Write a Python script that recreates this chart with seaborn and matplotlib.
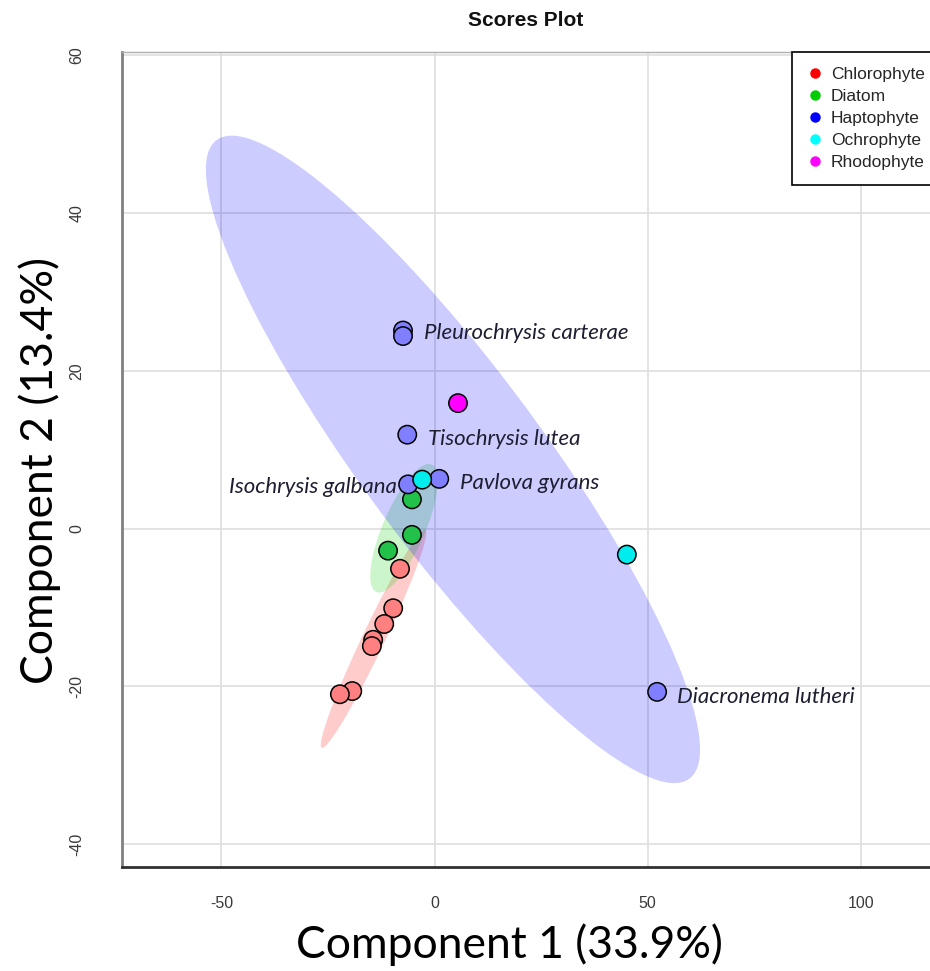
import numpy as np
import pandas as pd
import seaborn as sns
import matplotlib.pyplot as plt
from matplotlib.patches import Ellipse
from matplotlib.lines import Line2D

# groups and colours
group_order = ['Chlorophyte', 'Diatom', 'Haptophyte', 'Ochrophyte', 'Rhodophyte']
legend_colors = ['#ff0000', '#00cd00', '#0000ff', '#00ffff', '#ff00ff']
point_colors = ['#ff8080', '#22c24a', '#7f7fff', '#00eded', '#ff00ff']

# PCA scores
comp1 = [-8.1, -9.7, -11.8, -14.4, -14.7, -19.3, -22.2,
         -5.3, -5.3, -10.9,
         -7.4, -7.4, -6.4, -6.2, 1.1, 52.2,
         -2.9, 45.1,
         5.5]
comp2 = [-5.1, -10.1, -12.1, -14.1, -14.9, -20.6, -21.0,
         3.7, -0.8, -2.8,
         25.1, 24.4, 11.9, 5.6, 6.3, -20.7,
         6.2, -3.3,
         15.9]
group = (['Chlorophyte'] * 7 + ['Diatom'] * 3 + ['Haptophyte'] * 6
         + ['Ochrophyte'] * 2 + ['Rhodophyte'])
species = ([''] * 10
           + ['Pleurochrysis carterae', '', 'Tisochrysis lutea', 'Isochrysis galbana',
              'Pavlova gyrans', 'Diacronema lutheri']
           + ['', '', ''])

df = pd.DataFrame({'comp1': comp1, 'comp2': comp2, 'group': group, 'species': species})

sns.set_style('white')
plt.rcParams['font.family'] = ['Liberation Sans', 'DejaVu Sans']
plt.rcParams['axes.unicode_minus'] = False

fig = plt.figure(figsize=(9.3, 9.71), dpi=100)
ax = fig.add_axes([0.1312, 0.1071, 0.8688, 0.8393])

ax.set_xlim(-73.3, 116.2)
ax.set_ylim(-42.9, 60.4)
ax.set_xticks([-50, 0, 50, 100])
ax.set_yticks([-40, -20, 0, 20, 40, 60])
ax.grid(True, color='#e0e0e0', lw=1.3)
ax.set_axisbelow(True)

# 95% confidence ellipses for groups with at least 3 samples
chi2_95 = -2 * np.log(0.05)
for g, c in zip(group_order, legend_colors):
    sub = df[df['group'] == g]
    if len(sub) < 3:
        continue
    cov = np.cov(sub['comp1'], sub['comp2'])
    vals, vecs = np.linalg.eigh(cov)
    angle = np.degrees(np.arctan2(vecs[1, 1], vecs[0, 1]))
    ell = Ellipse((sub['comp1'].mean(), sub['comp2'].mean()),
                  2 * np.sqrt(chi2_95 * vals[1]), 2 * np.sqrt(chi2_95 * vals[0]),
                  angle=angle, facecolor=c, alpha=0.2, edgecolor='none', zorder=1)
    ax.add_patch(ell)

sns.scatterplot(data=df, x='comp1', y='comp2', hue='group', hue_order=group_order,
                palette=dict(zip(group_order, point_colors)), s=175,
                edgecolor='black', linewidth=1.1, legend=False, zorder=3, ax=ax)

# species labels (offsets in points)
offsets = {
    'Pleurochrysis carterae': (15, 0, 'left'),
    'Tisochrysis lutea': (15, -1.5, 'left'),
    'Isochrysis galbana': (-8, -0.5, 'right'),
    'Pavlova gyrans': (15, -1.5, 'left'),
    'Diacronema lutheri': (14, -2, 'left'),
}
for _, row in df[df['species'] != ''].iterrows():
    dx, dy, ha = offsets[row['species']]
    ax.annotate(row['species'], (row['comp1'], row['comp2']), xytext=(dx, dy),
                textcoords='offset points', ha=ha, va='center_baseline',
                fontsize=16, style='italic', family='Lato', color='#1e1e32', zorder=4)

handles = [Line2D([], [], marker='o', ls='', color=c, markersize=6.5) for c in legend_colors]
leg = ax.legend(handles, group_order, loc='upper left', bbox_to_anchor=(0.829, 1.0),
                frameon=True, fancybox=False, edgecolor='black', fontsize=12.5,
                borderaxespad=0, handletextpad=0.4, handlelength=1.0,
                labelspacing=0.4, borderpad=0.85, framealpha=1)
leg.get_frame().set_linewidth(1.2)

ax.spines['right'].set_visible(False)
ax.spines['top'].set_color('#b0b0b0')
ax.spines['top'].set_linewidth(1.0)
ax.spines['left'].set_color('#808080')
ax.spines['left'].set_linewidth(2.0)
ax.spines['bottom'].set_color('#303030')
ax.spines['bottom'].set_linewidth(2.0)

ax.tick_params(axis='both', length=5, width=1.5, color='#333333',
               labelsize=11.5, labelcolor='#3a3a3a')
ax.tick_params(axis='x', pad=16)
ax.tick_params(axis='y', pad=22, labelrotation=90)
for lab in ax.get_yticklabels():
    lab.set_va('center')

ax.set_title('Scores Plot', fontweight='bold', fontsize=15, pad=19, color='#111111')
ax.set_xlabel('Component 1 (33.9%)', family='Lato', fontsize=32, color='black')
ax.set_ylabel('Component 2 (13.4%)', family='Lato', fontsize=32, color='black')
ax.xaxis.set_label_coords(0.480, -0.0957)
ax.xaxis.label.set_va('center')
ax.yaxis.set_label_coords(-0.1015, 0.486)
ax.yaxis.label.set_va('center')

fig.savefig('out.png', dpi=100)
